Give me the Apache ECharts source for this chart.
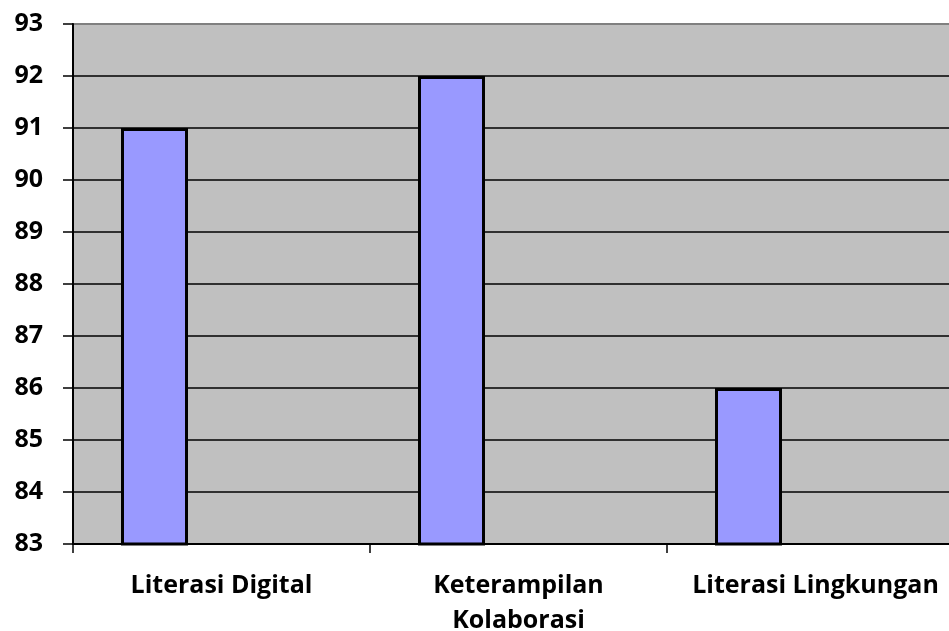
<!DOCTYPE html>
<html lang="en">
<head>
    <meta charset="UTF-8">
    <title>Chart</title>
    <script src="https://cdn.jsdelivr.net/npm/echarts@6/dist/echarts.min.js"></script>
    <style>
        html, body { margin: 0; padding: 0; background: #fff; overflow: hidden; }
        /* the plot runs past the right edge of the window in the original */
        #container { width: 964px; height: 631px; }
    </style>
</head>
<body>
<div id="container"></div>
<script>
    // data
    var categories = ['Literasi Digital', 'Keterampilan\nKolaborasi', 'Literasi Lingkungan'];
    var scores = [91, 92, 86];
    // the original sheet had 3 series, only the first one has visible values
    var emptySeries = ['-', '-', '-'];
    var yMin = 83;
    var yMax = 93;

    var myChart = echarts.init(document.getElementById('container'));

    var barStyle = {
        color: '#9999FF',
        borderColor: '#000',
        borderWidth: 3
    };

    var option = {
        animation: false,
        grid: {
            left: 73,
            right: 0,
            top: 24,
            bottom: 87,
            outerBoundsMode: 'none',
            show: true,
            backgroundColor: '#C0C0C0',
            borderColor: '#808080',
            borderWidth: 2
        },
        xAxis: {
            type: 'category',
            data: categories,
            axisLine: { lineStyle: { color: '#000', width: 2 } },
            axisTick: { show: true, interval: 0, length: 9, lineStyle: { color: '#000', width: 1.5 } },
            axisLabel: {
                interval: 0,
                hideOverlap: false,
                margin: 24,
                color: '#000',
                fontFamily: 'Open Sans',
                fontWeight: 'bold',
                fontSize: 25,
                lineHeight: 35
            },
            splitLine: { show: false }
        },
        yAxis: {
            type: 'value',
            min: yMin,
            max: yMax,
            interval: 1,
            axisLine: { show: true, lineStyle: { color: '#000', width: 2 } },
            axisTick: { show: true, length: 10, lineStyle: { color: '#000', width: 1.5 } },
            axisLabel: {
                margin: 30,
                color: '#000',
                fontFamily: 'Open Sans',
                fontWeight: 'bold',
                fontSize: 25
            },
            splitLine: { show: true, showMaxLine: false, lineStyle: { color: '#000', width: 1.5 } }
        },
        series: [
            {
                name: 'Nilai',
                type: 'bar',
                data: scores,
                barWidth: 67,
                barGap: '0%',
                itemStyle: barStyle
            },
            {
                name: 'S2',
                type: 'bar',
                data: emptySeries,
                barWidth: 67,
                barGap: '0%',
                itemStyle: barStyle
            },
            {
                name: 'S3',
                type: 'bar',
                data: emptySeries,
                barWidth: 67,
                barGap: '0%',
                itemStyle: barStyle
            }
        ]
    };

    myChart.setOption(option);
</script>
</body>
</html>
